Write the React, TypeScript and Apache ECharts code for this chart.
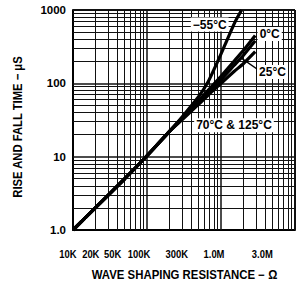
import React, { useEffect, useRef } from "react";
import * as echarts from "echarts";

// ---- data ----
// shared trunk of all curves (resistance in ohms, time in µs)
const rCommon = [10e3, 20e3, 50e3, 100e3, 200e3];
const tCommon = [1.0, 2.0, 5.0, 10.3, 22];

// −55 °C branch
const rMinus55 = [300e3, 500e3, 670e3, 880e3, 1.13e6, 1.55e6, 1.9e6];
const tMinus55 = [35, 66, 105, 188, 334, 690, 1000];

// other branches share the same resistance points
const rBranch = [300e3, 500e3, 700e3, 1e6, 1.5e6, 2e6, 2.9e6];
const t0C = [34, 58, 84, 125, 200, 280, 450];
const t25C = [33, 55, 78, 112, 175, 240, 380];
const t70C = [32, 52, 72, 100, 145, 185, 270];

// axes
const xMin = 10e3;
const xMax = 10e6;
const yMin = 1;
const yMax = 1000;
const decadeSteps = [1, 2, 3, 4, 5, 6, 7, 8, 9];
const xDecades = [1e4, 1e5, 1e6];
const yDecades = [1, 10, 100];

const xTickValues = [10e3, 20e3, 50e3, 100e3, 300e3, 1e6, 3e6];
const xTickLabels = ["10K", "20K", "50K", "100K", "300K", "1.0M", "3.0M"];

const yTitle = "RISE AND FALL TIME \u2212 \u03bcS";
const xTitle = "WAVE SHAPING RESISTANCE \u2212 \u03a9";
const curveLabels = ["\u221255\u00b0C", "0\u00b0C", "25\u00b0C", "70\u00b0C & 125\u00b0C"];

// ---- layout (not data) ----
const W = 297;
const H = 286;
const xLabelShift = [-5, -4.5, -12, -8, -5.5, -7, 6];
const FONT = "'Liberation Sans', Arial, sans-serif";

function zip(rs: number[], ts: number[]) {
  return rs.map((r, i) => [r, ts[i]]);
}

export default function App() {
  const ref = useRef<HTMLDivElement>(null);

  useEffect(() => {
    if (!ref.current) return;
    const chart = echarts.init(ref.current, undefined, { renderer: "svg", width: W, height: H });

    const gridX: number[] = [];
    xDecades.forEach((d) => decadeSteps.forEach((s) => gridX.push(d * s)));
    gridX.push(xMax);
    const gridY: number[] = [];
    yDecades.forEach((d) => decadeSteps.forEach((s) => gridY.push(d * s)));
    gridY.push(yMax);

    const isMajor = (v: number) => Math.abs(Math.log10(v) - Math.round(Math.log10(v))) < 1e-9;

    const markData: any[] = [];
    gridX.forEach((v) => {
      if (v === xMin) return;
      markData.push({
        xAxis: v,
        lineStyle: { color: "#111", width: v === xMax ? 2 : isMajor(v) ? 1.5 : 1, type: "solid" },
      });
    });
    gridY.forEach((v) => {
      if (v === yMin) return;
      markData.push({
        yAxis: v,
        lineStyle: { color: "#111", width: v === yMax ? 2 : isMajor(v) ? 1.5 : 1, type: "solid" },
      });
    });

    const curveStyle = { color: "#000", width: 3.2 };
    const mkCurve = (name: string, rs: number[], ts: number[]) => ({
      name,
      type: "line",
      data: zip(rCommon.concat(rs), tCommon.concat(ts)),
      showSymbol: false,
      symbol: "none",
      smooth: 0.2,
      lineStyle: curveStyle,
      z: 5,
      silent: true,
    });

    chart.setOption({
      animation: false,
      backgroundColor: "#fff",
      grid: { left: 73, right: W - 295, top: 10, bottom: H - 230, containLabel: false },
      xAxis: {
        type: "log",
        logBase: 10,
        min: xMin,
        max: xMax,
        axisLine: { show: true, lineStyle: { color: "#000", width: 2 } },
        axisTick: { show: false },
        axisLabel: { show: false },
        splitLine: { show: false },
        minorTick: { show: false },
      },
      yAxis: {
        type: "log",
        logBase: 10,
        min: yMin,
        max: yMax,
        axisLine: { show: true, lineStyle: { color: "#000", width: 2 } },
        axisTick: { show: false },
        splitLine: { show: false },
        axisLabel: {
          show: true,
          margin: 7,
          color: "#000",
          fontFamily: FONT,
          fontWeight: "bold",
          fontSize: 11.5,
          formatter: (v: number) => {
            const r = Math.round(v);
            return r === 1 ? "1.0" : String(r);
          },
        },
      },
      series: [
        {
          name: "grid",
          type: "line",
          data: [[xMin, yMin]],
          symbol: "none",
          showSymbol: false,
          lineStyle: { opacity: 0 },
          silent: true,
          z: 1,
          markLine: {
            silent: true,
            symbol: ["none", "none"],
            label: { show: false },
            animation: false,
            data: markData,
          },
        },
        mkCurve("70°C & 125°C", rBranch, t70C),
        mkCurve("25°C", rBranch, t25C),
        mkCurve("0°C", rBranch, t0C),
        mkCurve("-55°C", rMinus55, tMinus55),
      ],
    });

    const xLabelGraphics = xTickValues.map((v, i) => {
      const px = chart.convertToPixel({ xAxisIndex: 0 }, v) as number;
      return {
        type: "text",
        z: 100,
        x: px + xLabelShift[i],
        y: 254,
        scaleX: 0.82,
        style: {
          text: xTickLabels[i],
          x: 0,
          y: 0,
          align: "center",
          verticalAlign: "middle",
          fill: "#000",
          font: `bold 11.5px ${FONT}`,
        },
      };
    });

    const labelBox = (text: string, cx: number, cy: number) => ({
      type: "text",
      z: 100,
      style: {
        text,
        x: cx,
        y: cy,
        align: "center",
        verticalAlign: "middle",
        fill: "#000",
        font: `bold 12px ${FONT}`,
        backgroundColor: "#fff",
        padding: [1, 2, 1, 2],
      },
    });

    chart.setOption({
      graphic: [
        ...xLabelGraphics,
        {
          type: "text",
          z: 100,
          x: 184.5,
          y: 274.5,
          scaleX: 0.95,
          style: {
            text: xTitle,
            x: 0,
            y: 0,
            align: "center",
            verticalAlign: "middle",
            fill: "#000",
            font: `bold 12px ${FONT}`,
          },
        },
        {
          type: "text",
          z: 100,
          x: 18,
          y: 127,
          rotation: Math.PI / 2,
          scaleX: 0.9,
          style: {
            text: yTitle,
            x: 0,
            y: 0,
            align: "center",
            verticalAlign: "middle",
            fill: "#000",
            font: `bold 12.5px ${FONT}`,
          },
        },
        {
          type: "line",
          z: 90,
          shape: { x1: 241.7, y1: 58.3, x2: 257, y2: 69 },
          style: { stroke: "#000", lineWidth: 1.5 },
        },
        labelBox(curveLabels[0], 209.7, 24.5),
        labelBox(curveLabels[1], 269.7, 34),
        labelBox(curveLabels[2], 272.5, 72),
        labelBox(curveLabels[3], 234, 125.3),
      ],
    });

    return () => chart.dispose();
  }, []);

  return (
    <div
      ref={ref}
      style={{ position: "fixed", left: 0, top: 0, width: W, height: H, background: "#fff" }}
    />
  );
}
